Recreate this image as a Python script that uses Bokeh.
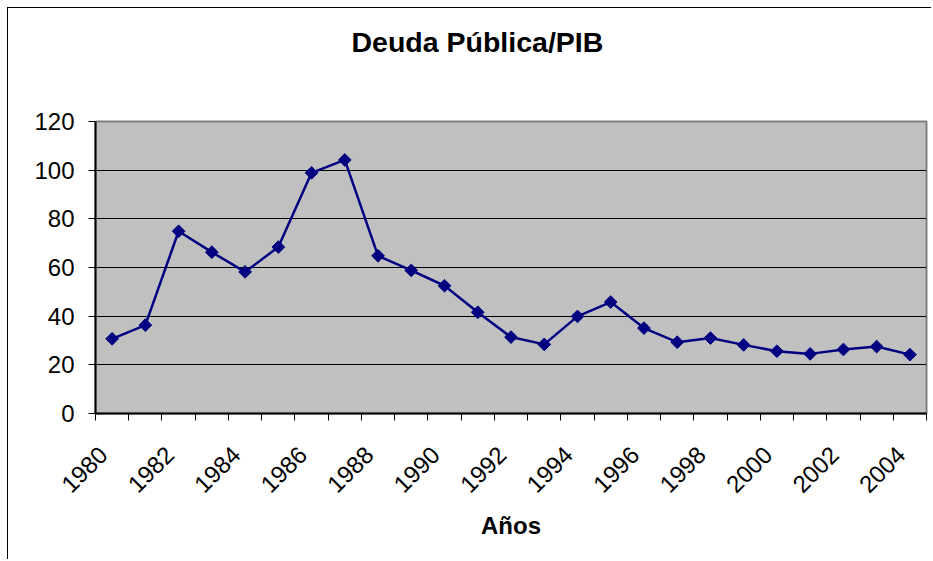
import numpy as np
from bokeh.plotting import figure
from bokeh.models import Range1d, FixedTicker, ColumnDataSource, Title
from bokeh.embed import file_html
from bokeh.resources import INLINE

# ---- data ----
years = list(range(1980, 2005))
deuda_pib = [30.7, 36.3, 74.9, 66.3, 58.2, 68.4, 98.9, 104.2, 64.8, 58.8,
             52.5, 41.6, 31.4, 28.4, 39.9, 45.8, 35.1, 29.3, 31.0, 28.2,
             25.6, 24.5, 26.3, 27.5, 24.2]
y_ticks = [0, 20, 40, 60, 80, 100, 120]
label_years = years[::2]

title_text = "Deuda Pública/PIB"
x_title = "Años"

# category centres on a numeric axis (one unit per year)
x_pos = [i + 0.5 for i in range(len(years))]
src = ColumnDataSource(dict(x=x_pos, y=deuda_pib))

FONT = "Liberation Sans"
LABEL_SHIFT = -0.27  # rotated labels sit slightly left of the category centre

p = figure(width=924, height=552, output_backend="svg", toolbar_location=None,
           title=None,
           x_range=Range1d(0, len(years)), y_range=Range1d(0, 120),
           min_border_left=87, min_border_right=6, min_border_top=113,
           min_border_bottom=147)
p.styles = {"border-left": "1px solid #000000", "border-top": "1px solid #000000",
            "margin-left": "7px", "margin-top": "7px"}

p.background_fill_color = "#C0C0C0"
p.border_fill_color = "#FFFFFF"
p.outline_line_color = "#808080"
p.outline_line_width = 2

# spacer between plot area and the title (nearest the frame)
p.add_layout(Title(text=" ", text_font=FONT, text_font_size="10px", standoff=51), "above")
# the chart title
p.add_layout(Title(text=title_text, align="left", offset=256, standoff=0,
                   vertical_align="bottom", text_font=FONT, text_font_size="28.5px",
                   text_font_style="bold", text_color="#000000"), "above")

# x axis
xa = p.xaxis[0]
lbl_pos = [x_pos[years.index(y)] + LABEL_SHIFT for y in label_years]
xa.ticker = FixedTicker(ticks=lbl_pos, minor_ticks=list(range(len(years) + 1)))
xa.major_label_overrides = {x_pos[years.index(y)] + LABEL_SHIFT: str(y) for y in label_years}
xa.major_tick_out = 0
xa.major_tick_in = 0
xa.minor_tick_out = 7
xa.minor_tick_in = 0
xa.minor_tick_line_color = "#000000"
xa.axis_line_color = "#000000"
xa.axis_line_width = 2
xa.major_label_orientation = np.pi / 4
xa.major_label_standoff = 30
xa.major_label_text_font = FONT
xa.major_label_text_font_size = "24px"
xa.major_label_text_color = "#000000"
xa.axis_label = x_title
xa.axis_label_text_font = FONT
xa.axis_label_text_font_size = "24px"
xa.axis_label_text_font_style = "bold"
xa.axis_label_text_color = "#000000"
xa.axis_label_standoff = 9

# y axis
ya = p.yaxis[0]
ya.ticker = FixedTicker(ticks=y_ticks)
ya.major_tick_out = 7
ya.major_tick_in = 0
ya.minor_tick_out = 0
ya.minor_tick_in = 0
ya.major_tick_line_color = "#000000"
ya.axis_line_color = "#000000"
ya.axis_line_width = 2
ya.major_label_standoff = 14
ya.major_label_text_font = FONT
ya.major_label_text_font_size = "24px"
ya.major_label_text_color = "#000000"

p.xgrid.visible = False
p.ygrid.grid_line_color = "#000000"
p.ygrid.grid_line_width = 1
p.ygrid.ticker = FixedTicker(ticks=y_ticks)

p.line("x", "y", source=src, line_color="#000080", line_width=2.5)
p.scatter("x", "y", source=src, marker="square", angle=np.pi / 4, size=9,
          fill_color="#000080", line_color="#000080")

open("out.html", "w").write(file_html(p, INLINE))
